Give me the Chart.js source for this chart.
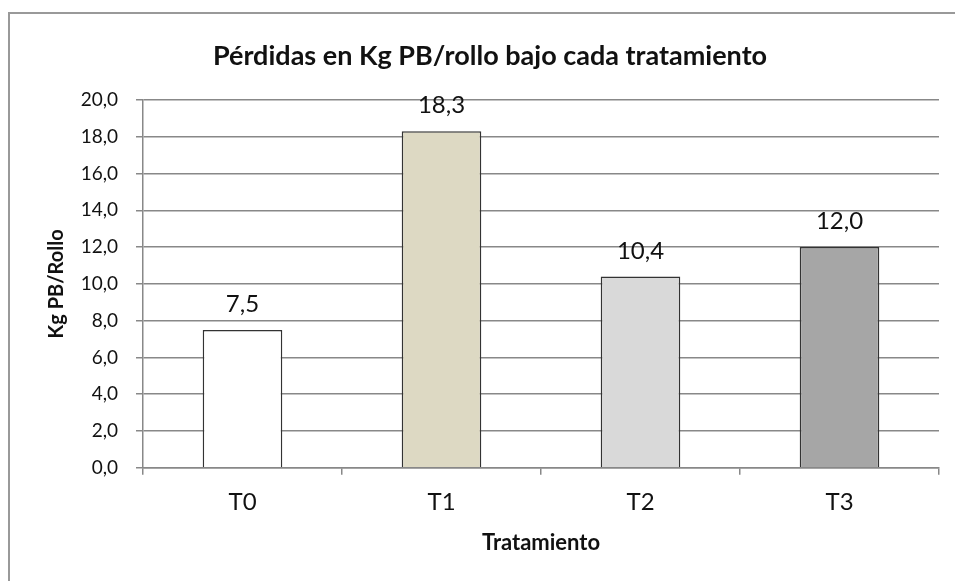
<!DOCTYPE html>
<html>
<head>
<meta charset="utf-8">
<script src="https://cdn.jsdelivr.net/npm/chart.js@4"></script>
<style>
  body { margin: 0; background: #fff; }
  #wrap { position: relative; width: 955px; height: 581px; overflow: hidden; }
  #frame { position: absolute; left: 8px; top: 12px; width: 1200px; height: 800px;
           border-left: 2px solid #999; border-top: 2px solid #999; pointer-events: none; }
</style>
</head>
<body>
<div id="wrap">
  <canvas id="myChart" width="955" height="581"></canvas>
  <div id="frame"></div>
</div>
<script>
var categories = ['T0', 'T1', 'T2', 'T3'];
var perdidas = [7.5, 18.3, 10.4, 12.0];
var barColors = ['#ffffff', '#ddd9c3', '#d9d9d9', '#a6a6a6'];

var coma = function (v) {
  return Number(v).toFixed(1).replace('.', ',');
};

// etiquetas de valor encima de cada barra
var valueLabels = {
  id: 'valueLabels',
  afterDatasetsDraw: function (chart) {
    var ctx = chart.ctx;
    var meta = chart.getDatasetMeta(0);
    ctx.save();
    ctx.font = '24px Lato';
    ctx.fillStyle = '#111';
    ctx.textAlign = 'center';
    ctx.textBaseline = 'alphabetic';
    meta.data.forEach(function (bar, i) {
      ctx.fillText(coma(chart.data.datasets[0].data[i]), bar.x, bar.y - 18);
    });
    ctx.restore();
  }
};

var ctx = document.getElementById('myChart');
new Chart(ctx, {
  type: 'bar',
  data: {
    labels: categories,
    datasets: [{
      data: perdidas,
      backgroundColor: barColors,
      borderColor: '#333',
      borderWidth: 1.5,
      categoryPercentage: 1,
      barPercentage: 0.4
    }]
  },
  options: {
    responsive: false,
    animation: false,
    layout: { padding: { left: 41, right: 16, top: 0, bottom: 21 } },
    plugins: {
      legend: { display: false },
      tooltip: { enabled: false },
      title: {
        display: true,
        text: 'Pérdidas en Kg PB/rollo bajo cada tratamiento',
        color: '#111',
        font: { family: 'Lato', size: 27, weight: 'bold' },
        padding: { top: 40, bottom: 27.6 }
      }
    },
    scales: {
      x: {
        offset: true,
        grid: { offset: true, drawOnChartArea: false, tickLength: 7, color: '#888', lineWidth: 1.5 },
        border: { color: '#888', width: 1.5 },
        ticks: { color: '#111', padding: 13, font: { family: 'Lato', size: 24 } },
        title: {
          display: true, text: 'Tratamiento', color: '#111',
          font: { family: 'Lato', size: 22, weight: 'bold' },
          padding: { top: 0, bottom: 4 }
        }
      },
      y: {
        min: 0,
        max: 20,
        afterFit: function (scale) { scale.width = 102; },
        grid: { tickLength: 7, color: '#888', lineWidth: 1.5 },
        border: { color: '#888', width: 1.5 },
        ticks: {
          stepSize: 2, padding: 18, color: '#111',
          font: { family: 'Lato', size: 19 },
          callback: function (v) { return coma(v); }
        },
        title: {
          display: true, text: 'Kg PB/Rollo', color: '#111',
          font: { family: 'Lato', size: 20, weight: 'bold' }
        }
      }
    }
  },
  plugins: [valueLabels]
});
</script>
</body>
</html>
